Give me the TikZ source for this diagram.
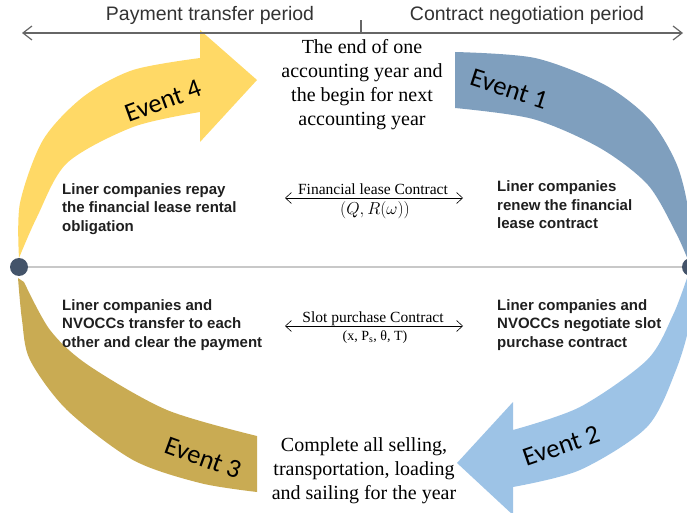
\documentclass[tikz,border=0pt]{standalone}
\usepackage{fontspec}
\setmainfont{Liberation Serif}
\newfontfamily\evfont{Carlito}
\newfontfamily\topfont{Liberation Sans}
\newfontfamily\sidefont{Liberation Sans}
\usetikzlibrary{arrows.meta}
\definecolor{cfour}{HTML}{FFD966}
\definecolor{cone}{HTML}{7F9FBE}
\definecolor{ctwo}{HTML}{9DC3E6}
\definecolor{cthree}{HTML}{C9AB53}
\definecolor{cdot}{HTML}{44546A}
\definecolor{cline}{HTML}{C8C8C8}
\begin{document}
\begin{tikzpicture}[x=1pt,y=-1pt,
  evlabel/.style={font=\evfont\fontsize{26.5}{30}\selectfont, inner sep=0pt},
  sidetext/.style={font=\sidefont\bfseries\fontsize{15}{18.5}\selectfont, align=left, anchor=west, inner sep=0pt, text=black!88},
  centertext/.style={font=\fontsize{20}{24}\selectfont, align=center, inner sep=0pt},
  toplabel/.style={font=\topfont\fontsize{19.5}{22}\selectfont, text=black!80, inner sep=0pt},
  contractlabel/.style={font=\fontsize{15.5}{18}\selectfont, inner sep=0pt},
  topbar/.style={draw=black!60, line width=1.2pt, {Straight Barb[length=9pt,width=14pt]}-{Straight Barb[length=9pt,width=14pt]}},
  contractarrow/.style={draw=black, line width=0.6pt, {Straight Barb[length=6pt,width=11pt]}-{Straight Barb[length=6pt,width=11pt]}},
  dotnode/.style={circle, fill=cdot, minimum size=18pt, inner sep=0pt}]
\useasboundingbox (0,0) rectangle (687,513);
\begin{scope}
\clip (0,0) rectangle (687,513);
% Event 4 (yellow)
\fill[cfour] plot[smooth] coordinates {(19,258) (20,203) (43,140) (83,97) (133,70) (200,58)}
  -- (200,30) -- (257,80) -- (200,142) -- (200,112)
  -- plot[smooth] coordinates {(200,112) (133,127) (67,163) (37,217) (19,258)} -- cycle;
% Event 1 (blue gray)
\fill[cone] plot[smooth] coordinates {(455,52) (535,58) (605,85) (650,120) (677,165) (689,215) (688,260)}
  -- plot[smooth] coordinates {(688,260) (676,233) (648,185) (600,148) (533,119) (455,108)} -- cycle;
% Event 2 (light blue)
\fill[ctwo] plot[smooth] coordinates {(688,276) (690,320) (676,370) (647,427) (580,470) (513,487)}
  -- (513,515) -- (457,463) -- (513,402) -- (513,430)
  -- plot[smooth] coordinates {(513,430) (580,407) (647,360) (673,315) (687,278)} -- cycle;
% Event 3 (gold)
\fill[cthree] plot[smooth] coordinates {(18,278) (22,320) (30,360) (67,410) (133,460) (200,483) (257,492)}
  -- (257,436)
  -- plot[smooth] coordinates {(257,436) (167,410) (88,365) (50,330) (24,282)} -- cycle;
% dots and axis
\node[dotnode] (ldot) at (19,267) {};
\node[dotnode] (rdot) at (691,267) {};
\draw[cline, line width=1.5pt] (ldot) -- (rdot);
\end{scope}
% top bar
\coordinate (tl) at (22,33);
\coordinate (tr) at (683,33);
\coordinate (tk) at (361,33);
\coordinate (tkt) at (361,20);
\draw[topbar] (tl) -- (tr);
\draw[draw=black!60, line width=1.2pt] (tk) -- (tkt);
\node[toplabel] (ptp) at (210,15) {Payment transfer period};
\node[toplabel] (cnp) at (527,15) {Contract negotiation period};
% event labels
\node[evlabel, rotate=20] (e4) at (163,101) {Event 4};
\node[evlabel, rotate=-18] (e1) at (509,89) {Event 1};
\node[evlabel, rotate=19] (e2) at (561,446) {Event 2};
\node[evlabel, rotate=-20] (e3) at (203,458) {Event 3};
% center texts
\node[centertext] (topc) at (362,85) {The end of one\\accounting year and\\the begin for next\\accounting year};
\node[centertext] (botc) at (364,471) {Complete all selling,\\transportation, loading\\and sailing for the year};
% side texts
\node[sidetext] (lt) at (62,209) {Liner companies repay\\the financial lease rental\\obligation};
\node[sidetext] (rt) at (497,205) {Liner companies\\renew the financial\\lease contract};
\node[sidetext] (lb) at (62,325) {Liner companies and\\NVOCCs transfer to each\\other and clear the payment};
\node[sidetext] (rb) at (497,325) {Liner companies and\\NVOCCs negotiate slot\\purchase contract};
% contracts
\coordinate (fa) at (285,198);
\coordinate (fb) at (463,198);
\draw[contractarrow] (fa) -- (fb);
\node[contractlabel, anchor=base] (flc) at (373,194) {Financial lease Contract};
\node[contractlabel, font=\fontsize{17}{19}\selectfont] (flm) at (375,210) {$\bigl(Q,R(\omega)\bigr)$};
\coordinate (sa) at (285,326);
\coordinate (sb) at (463,326);
\draw[contractarrow] (sa) -- (sb);
\node[contractlabel, anchor=base] (spc) at (373,322) {Slot purchase Contract};
\node[contractlabel, font=\fontsize{14}{16}\selectfont] (spm) at (375,337) {(x, P\textsubscript{s}, θ, T)};
\end{tikzpicture}
\end{document}
